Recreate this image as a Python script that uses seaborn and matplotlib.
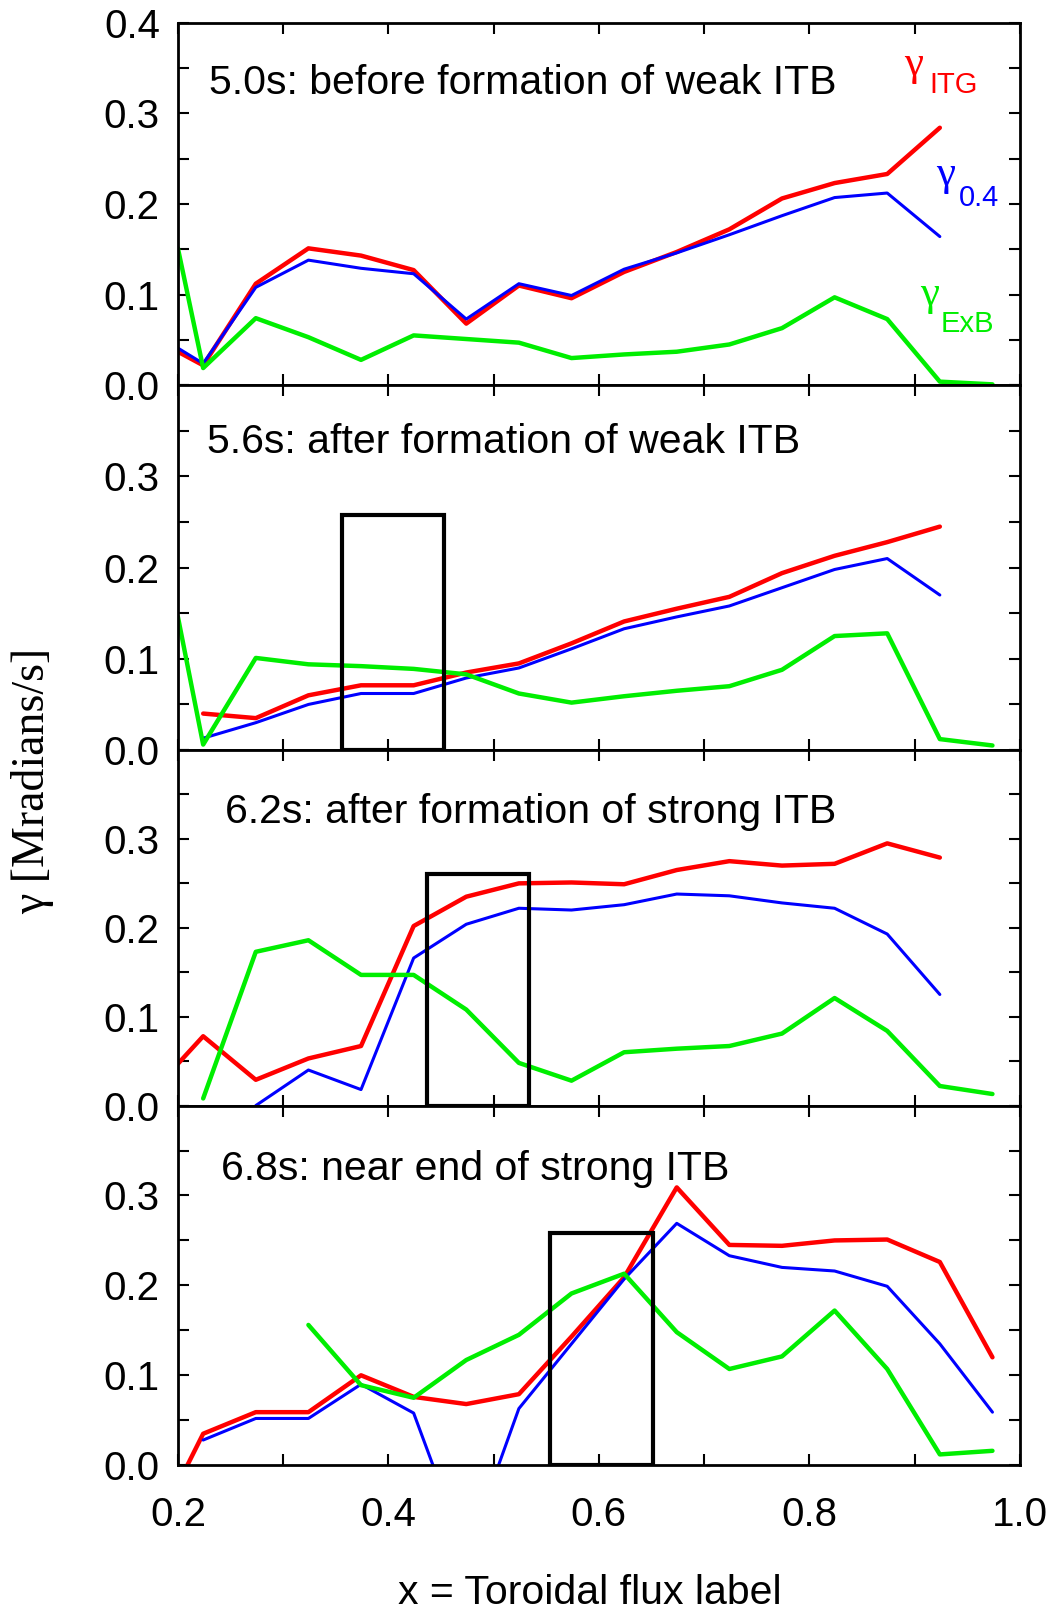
import matplotlib
matplotlib.use('Agg')
import matplotlib.pyplot as plt
from matplotlib.patches import Rectangle
from matplotlib.ticker import MultipleLocator, FormatStrFormatter
import numpy as np
import seaborn as sns

# flux grid shared by all panels (nan = no point)
x_grid = [0.2, 0.224, 0.274, 0.324, 0.374, 0.424, 0.474, 0.524, 0.574,
          0.624, 0.674, 0.724, 0.774, 0.824, 0.874, 0.924, 0.974]
nan = np.nan

panel_titles = ['5.0s: before formation of weak ITB',
                '5.6s: after formation of weak ITB',
                '6.2s: after formation of strong ITB',
                '6.8s: near end of strong ITB']

itg_50 = [0.037, 0.022, 0.112, 0.151, 0.143, 0.127, 0.068, 0.110, 0.096,
          0.125, 0.147, 0.172, 0.206, 0.223, 0.233, 0.284, nan]
g04_50 = [0.041, 0.024, 0.108, 0.138, 0.129, 0.123, 0.073, 0.112, 0.099,
          0.128, 0.146, 0.166, 0.187, 0.207, 0.212, 0.164, nan]
exb_50 = [0.151, 0.019, 0.074, 0.053, 0.028, 0.055, 0.051, 0.047, 0.030,
          0.034, 0.037, 0.045, 0.063, 0.097, 0.073, 0.004, 0.001]

itg_56 = [nan, 0.040, 0.035, 0.060, 0.071, 0.071, 0.085, 0.095, 0.117,
          0.141, 0.155, 0.168, 0.194, 0.213, 0.228, 0.245, nan]
g04_56 = [nan, 0.013, 0.030, 0.050, 0.062, 0.062, 0.079, 0.090, 0.111,
          0.133, 0.146, 0.158, 0.178, 0.198, 0.210, 0.170, nan]
exb_56 = [0.146, 0.006, 0.101, 0.094, 0.092, 0.089, 0.083, 0.062, 0.052,
          0.059, 0.065, 0.070, 0.088, 0.125, 0.128, 0.012, 0.005]

itg_62 = [0.047, 0.078, 0.029, 0.053, 0.067, 0.202, 0.235, 0.250, 0.251,
          0.249, 0.265, 0.275, 0.270, 0.272, 0.295, 0.279, nan]
g04_62 = [nan, nan, 0.0, 0.040, 0.018, 0.166, 0.204, 0.222, 0.220,
          0.226, 0.238, 0.236, 0.228, 0.222, 0.193, 0.125, nan]
exb_62 = [nan, 0.008, 0.173, 0.186, 0.147, 0.147, 0.108, 0.048, 0.028,
          0.060, 0.064, 0.067, 0.081, 0.121, 0.084, 0.022, 0.013]

itg_68 = [-0.021, 0.035, 0.059, 0.059, 0.100, 0.076, 0.068, 0.079, 0.143,
          0.209, 0.309, 0.245, 0.244, 0.250, 0.251, 0.226, 0.120]
g04_68 = [nan, 0.028, 0.052, 0.052, 0.090, 0.058, -0.100, 0.063, 0.135,
          0.207, 0.269, 0.233, 0.220, 0.216, 0.199, 0.135, 0.059]
exb_68 = [nan, nan, nan, 0.156, 0.089, 0.075, 0.117, 0.145, 0.191,
          0.213, 0.148, 0.107, 0.121, 0.172, 0.107, 0.012, 0.016]

itg_all = [itg_50, itg_56, itg_62, itg_68]
g04_all = [g04_50, g04_56, g04_62, g04_68]
exb_all = [exb_50, exb_56, exb_62, exb_68]

# ITB boxes (x start, x end, top); first panel has none
box_x0 = [None, 0.356, 0.437, 0.554]
box_x1 = [None, 0.453, 0.534, 0.651]
box_top = [None, 0.258, 0.261, 0.258]

sns.set_style('ticks')
plt.rcParams['font.family'] = ['Liberation Sans', 'DejaVu Sans']
for key in ['text.color', 'axes.labelcolor', 'xtick.color', 'ytick.color',
            'axes.edgecolor']:
    plt.rcParams[key] = 'black'

fig = plt.figure(figsize=(10.59, 16.11), dpi=100)
gs = fig.add_gridspec(4, 1, left=0.168, right=0.963, top=0.986,
                      bottom=0.0905, hspace=0,
                      height_ratios=[353, 355, 346, 350])

series = [(itg_all, 'red', 3.2), (g04_all, 'blue', 2.2), (exb_all, '#00ee00', 3.2)]

for i in range(4):
    ax = fig.add_subplot(gs[i])
    xs = np.array(x_grid)
    for vals, col, lw in series:
        ys = np.array(vals[i], dtype=float)
        ok = ~np.isnan(ys)
        sns.lineplot(x=xs[ok], y=ys[ok], ax=ax, color=col, linewidth=lw,
                     sort=False, estimator=None)
    if box_x0[i] is not None:
        ax.add_patch(Rectangle((box_x0[i], 0), box_x1[i] - box_x0[i], box_top[i],
                               fill=False, edgecolor='black', linewidth=3,
                               zorder=5))
    ax.set_xlim(0.2, 1.0)
    ax.set_ylim(0.0, 0.4)
    ax.xaxis.set_major_locator(MultipleLocator(0.2))
    ax.xaxis.set_minor_locator(MultipleLocator(0.1))
    if i == 0:
        ax.set_yticks([0.0, 0.1, 0.2, 0.3, 0.4])
    else:
        ax.set_yticks([0.0, 0.1, 0.2, 0.3])
    ax.yaxis.set_minor_locator(MultipleLocator(0.05))
    ax.yaxis.set_major_formatter(FormatStrFormatter('%.1f'))
    ax.xaxis.set_major_formatter(FormatStrFormatter('%.1f'))
    ax.tick_params(which='both', direction='in', top=True, right=True,
                   length=8, width=1.5, labelsize=29)
    ax.tick_params(axis='y', pad=13)
    ax.tick_params(axis='x', pad=22)
    if i < 3:
        ax.tick_params(axis='x', labelbottom=False)
    for sp in ax.spines.values():
        sp.set_linewidth(2)
        sp.set_color('black')
    ax.set_xlabel('')
    ax.set_ylabel('')
    tx = [0.230, 0.228, 0.245, 0.241][i]
    ty = [0.333, 0.338, 0.330, 0.329][i]
    ax.text(tx, ty, panel_titles[i], fontsize=29.5, va='center', ha='left')

    if i == 0:
        lab = [('ITG', 'red', 0.8995, 0.354, 0.914, 0.331),
               ('0.4', 'blue', 0.929, 0.232, 0.942, 0.207),
               ('ExB', '#00ee00', 0.914, 0.0995, 0.925, 0.068)]
        for sub, col, gx, gy, sx, sy in lab:
            ax.text(gx, gy, 'γ', color=col, fontsize=31, ha='center',
                    va='center', family=['Liberation Serif', 'DejaVu Serif'])
            ax.text(sx, sy, sub, color=col, fontsize=21, ha='left', va='center')

fig.text(0.031, 0.515, 'γ [Mradians/s]', rotation=90, fontsize=33,
         ha='center', va='center', family=['Liberation Serif', 'DejaVu Serif'])
fig.text(0.557, 0.011, 'x = Toroidal flux label', fontsize=29.5,
         ha='center', va='center')

fig.savefig('out.png', dpi=100)
